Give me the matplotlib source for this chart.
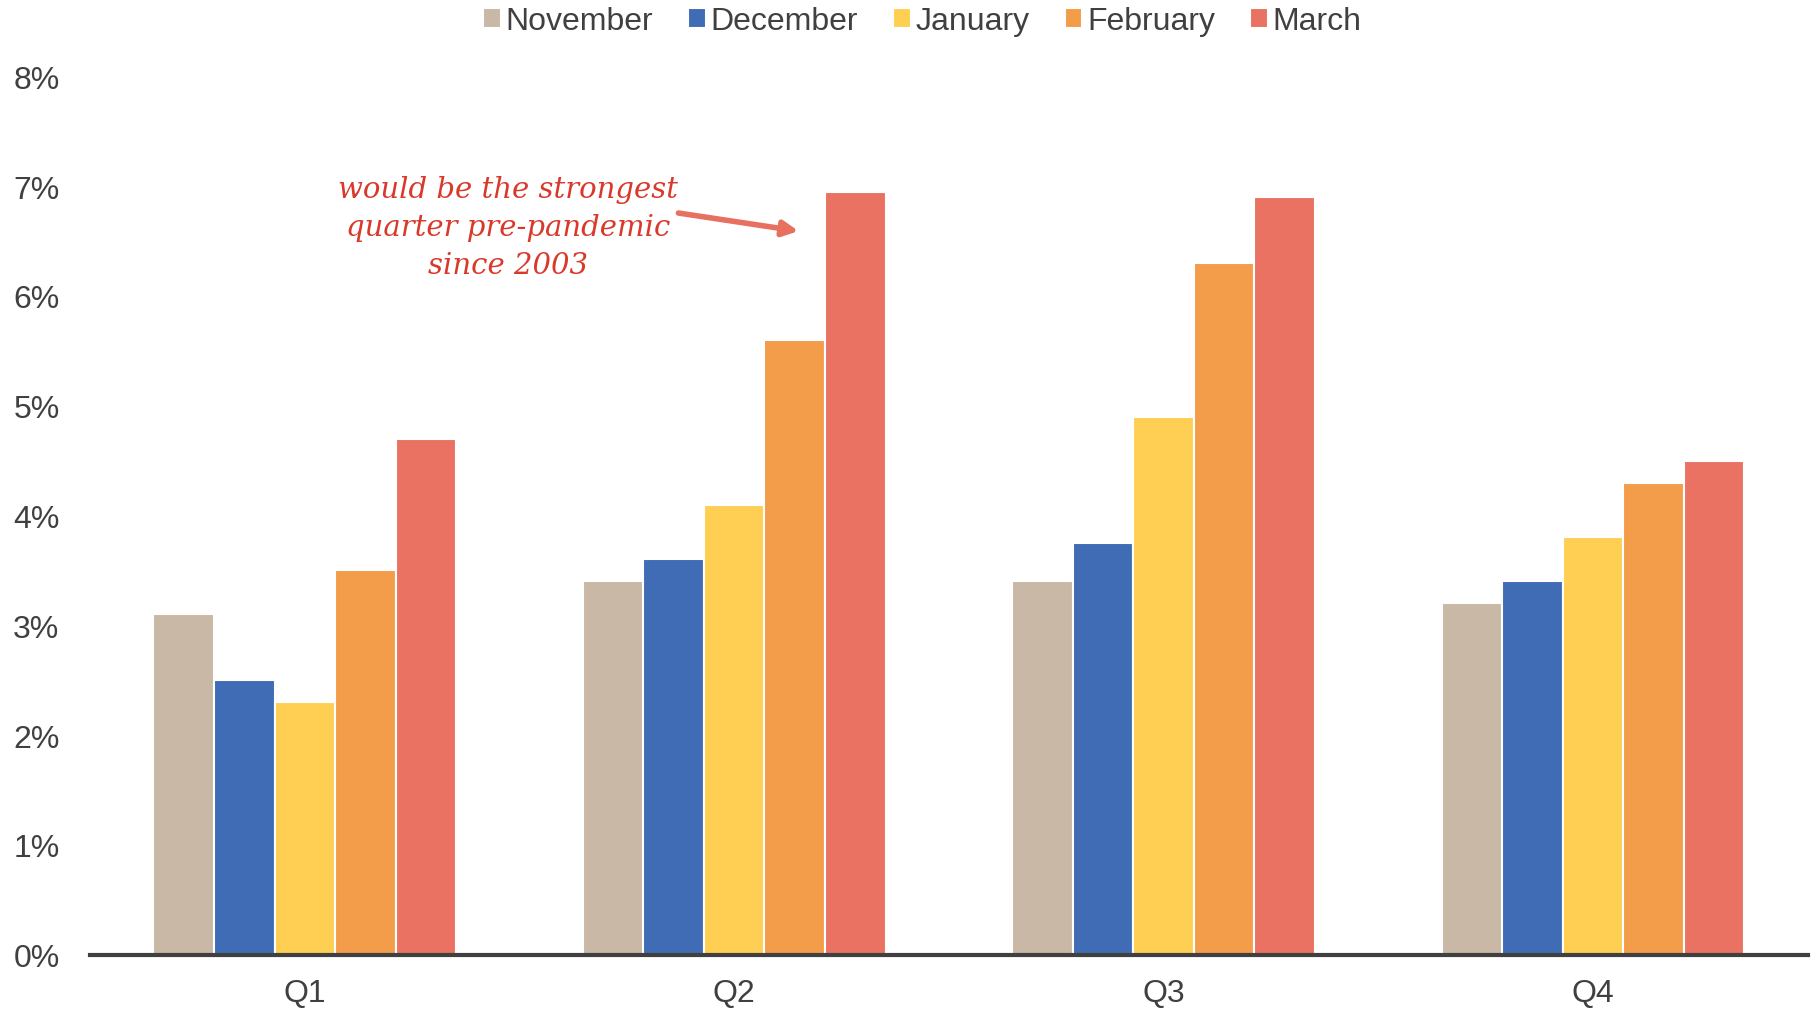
import matplotlib
matplotlib.use("Agg")
import matplotlib.pyplot as plt
import numpy as np

# data
quarters = ["Q1", "Q2", "Q3", "Q4"]
months = ["November", "December", "January", "February", "March"]
november = [3.1, 3.4, 3.4, 3.2]
december = [2.5, 3.6, 3.75, 3.4]
january = [2.3, 4.1, 4.9, 3.8]
february = [3.5, 5.6, 6.3, 4.3]
march = [4.7, 6.95, 6.9, 4.5]
series = [november, december, january, february, march]
colors = ["#c8b8a5", "#3f6cb5", "#fecf53", "#f39c49", "#e97262"]

plt.rcParams["font.family"] = ["Liberation Sans", "DejaVu Sans"]

fig = plt.figure(figsize=(18.12, 10.12), dpi=100)
ax = fig.add_axes([0.0497, 0.0556, 0.948, 0.868])

x = np.arange(len(quarters))
w = 0.141
for i, (vals, col, name) in enumerate(zip(series, colors, months)):
    ax.bar(x + (i - 2) * w, vals, w, color=col, edgecolor="white", linewidth=1.5, label=name)

ax.set_xlim(-0.5, 3.5)
ax.set_ylim(0, 8)
ax.set_yticks(range(0, 9))
ax.set_yticklabels([f"{v}%" for v in range(0, 9)])
ax.set_xticks(x)
ax.set_xticklabels(quarters)
ax.tick_params(axis="both", length=0, labelsize=23, labelcolor="#404040")
ax.tick_params(axis="y", pad=22)
ax.tick_params(axis="x", pad=17)

for s in ["top", "right", "left"]:
    ax.spines[s].set_visible(False)
ax.spines["bottom"].set_color("#404040")
ax.spines["bottom"].set_linewidth(3)

# annotation
ax.text(0.473, 6.63, "would be the strongest\nquarter pre-pandemic\nsince 2003",
        ha="center", va="center", fontsize=21, style="italic", color="#d9392b",
        family="DejaVu Serif", linespacing=1.45)
ax.annotate("", xy=(1.15, 6.59), xytext=(0.87, 6.755),
            arrowprops=dict(arrowstyle="-|>,head_length=0.9,head_width=0.45",
                            color="#e8705f", lw=4, shrinkA=0, shrinkB=0))

fig.legend(loc="upper center", bbox_to_anchor=(0.509, 1.021), ncol=5, frameon=False,
           fontsize=23, handlelength=0.55, handleheight=0.6, handletextpad=0.15,
           columnspacing=1.1, labelcolor="#404040")

fig.savefig("out.png", dpi=100)
